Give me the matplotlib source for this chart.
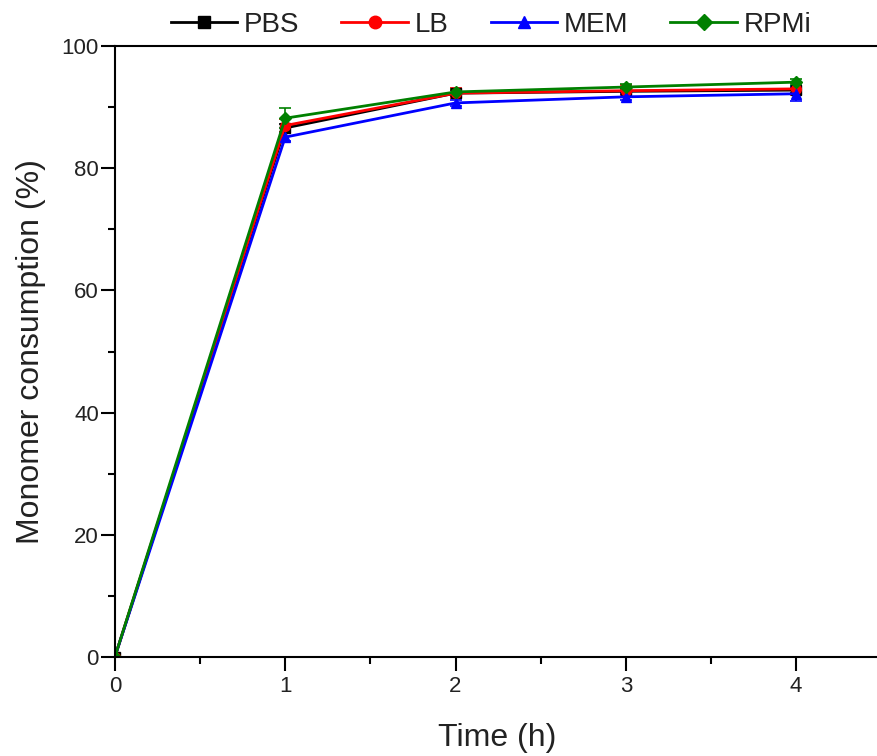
import matplotlib.pyplot as plt
from matplotlib.ticker import MultipleLocator
from matplotlib.lines import Line2D

plt.rcParams['font.family'] = ['Liberation Sans', 'DejaVu Sans']

time_h = [0, 1, 2, 3, 4]

pbs = [0, 86.6, 92.3, 92.6, 92.8]
pbs_err = [0.3, 0.6, 0.5, 0.5, 0.5]
lb = [0, 87.0, 92.3, 92.7, 93.0]
lb_err = [0.3, 1.0, 0.8, 0.9, 1.0]
mem = [0, 85.1, 90.7, 91.7, 92.2]
mem_err = [0.3, 0.6, 0.5, 0.6, 1.2]
rpmi = [0, 88.2, 92.5, 93.3, 94.1]
rpmi_err = [0.3, 1.6, 0.5, 0.5, 0.5]

series = [
    ("PBS", pbs, pbs_err, "black", "s"),
    ("LB", lb, lb_err, "red", "o"),
    ("MEM", mem, mem_err, "blue", "^"),
    ("RPMi", rpmi, rpmi_err, "green", "D"),
]

txt = "#222222"
fig = plt.figure(figsize=(8.77, 7.56), dpi=100)
ax = fig.add_axes([0.131, 0.131, 0.872, 0.808])

handles = []
for name, vals, err, col, mk in series:
    ms = 7 if mk != "D" else 6
    ax.errorbar(time_h, vals, yerr=err, color=col, marker=mk, markersize=ms,
                linewidth=2, capsize=4, elinewidth=1.2, capthick=1.2)
    handles.append(Line2D([], [], color=col, marker=mk, markersize=ms + 2,
                          linewidth=2, label=name))

ax.set_xlim(0, 4.49)
ax.set_ylim(0, 100)
ax.xaxis.set_major_locator(MultipleLocator(1))
ax.xaxis.set_minor_locator(MultipleLocator(0.5))
ax.yaxis.set_major_locator(MultipleLocator(20))
ax.yaxis.set_minor_locator(MultipleLocator(10))
ax.tick_params(which='major', direction='out', length=10, width=1.5,
               labelsize=16, labelcolor=txt)
ax.tick_params(axis='y', which='major', pad=1.5)
ax.tick_params(which='minor', direction='out', length=5, width=1.5)
for s in ax.spines.values():
    s.set_linewidth(1.5)
ax.spines['right'].set_visible(False)

ax.set_xlabel("Time (h)", fontsize=23, color=txt, labelpad=19)
ax.set_ylabel("Monomer consumption (%)", fontsize=23, color=txt, labelpad=11)

ax.legend(handles=handles, loc='lower center', bbox_to_anchor=(0.492, 0.995), ncol=4,
          frameon=False, fontsize=20, handlelength=2.4, handletextpad=0.25,
          columnspacing=1.5, borderaxespad=0.0, labelcolor=txt)

fig.savefig("out.png", dpi=100)
